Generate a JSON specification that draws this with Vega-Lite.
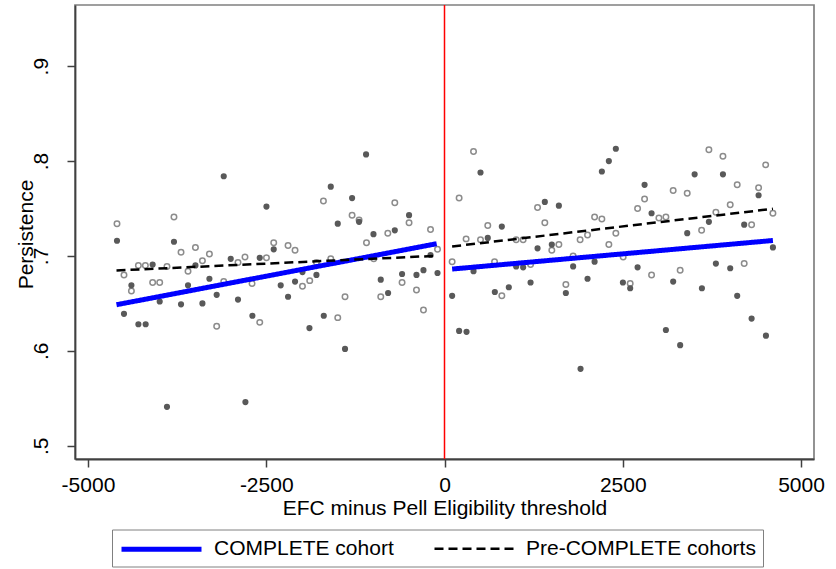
{
  "$schema": "https://vega.github.io/schema/vega-lite/v6.json",
  "width": 739,
  "height": 454,
  "autosize": {"type": "none"},
  "padding": {"left": 75, "top": 5, "right": 22, "bottom": 110},
  "background": "white",
  "config": {
    "view": {"stroke": "#808080", "strokeWidth": 1.7},
    "font": "Liberation Sans",
    "axis": {
      "labelFont": "Liberation Sans", "titleFont": "Liberation Sans",
      "labelFontSize": 21, "titleFontSize": 21, "titleFontWeight": "normal",
      "labelColor": "#000000", "titleColor": "#000000", "grid": false,
      "domainColor": "#404040", "domainWidth": 1.8,
      "tickColor": "#404040", "tickWidth": 1.5, "tickSize": 8,
      "labelFlush": false, "labelOverlap": false
    }
  },
  "datasets": {
    "pts": [
      {"x":-3096,"y":0.784,"c":"C"},{"x":-4593,"y":0.716,"c":"C"},{"x":-3794,"y":0.715,"c":"C"},{"x":-2998,"y":0.697,"c":"C"},{"x":-2591,"y":0.698,"c":"C"},{"x":-4093,"y":0.691,"c":"C"},{"x":-3493,"y":0.690,"c":"C"},{"x":-4391,"y":0.669,"c":"C"},{"x":-3597,"y":0.669,"c":"C"},{"x":-3297,"y":0.676,"c":"C"},{"x":-3994,"y":0.652,"c":"C"},{"x":-3695,"y":0.649,"c":"C"},{"x":-3395,"y":0.650,"c":"C"},{"x":-3195,"y":0.659,"c":"C"},{"x":-2896,"y":0.654,"c":"C"},{"x":-2297,"y":0.669,"c":"C"},{"x":-2096,"y":0.673,"c":"C"},{"x":-2194,"y":0.657,"c":"C"},{"x":-4495,"y":0.639,"c":"C"},{"x":-4293,"y":0.628,"c":"C"},{"x":-4191,"y":0.628,"c":"C"},{"x":-2694,"y":0.637,"c":"C"},{"x":-1894,"y":0.624,"c":"C"},{"x":-1693,"y":0.637,"c":"C"},{"x":-1395,"y":0.602,"c":"C"},{"x":-894,"y":0.675,"c":"C"},{"x":-791,"y":0.661,"c":"C"},{"x":-3892,"y":0.541,"c":"C"},{"x":-2792,"y":0.546,"c":"C"},{"x":-1100,"y":0.807,"c":"C"},{"x":-1595,"y":0.773,"c":"C"},{"x":-2497,"y":0.752,"c":"C"},{"x":-1296,"y":0.761,"c":"C"},{"x":-1198,"y":0.736,"c":"C"},{"x":-1497,"y":0.734,"c":"C"},{"x":-497,"y":0.743,"c":"C"},{"x":-697,"y":0.727,"c":"C"},{"x":-996,"y":0.723,"c":"C"},{"x":-2395,"y":0.707,"c":"C"},{"x":-196,"y":0.701,"c":"C"},{"x":-1992,"y":0.683,"c":"C"},{"x":-1796,"y":0.680,"c":"C"},{"x":-595,"y":0.681,"c":"C"},{"x":-393,"y":0.680,"c":"C"},{"x":-295,"y":0.685,"c":"C"},{"x":-98,"y":0.682,"c":"C"},
      {"x":505,"y":0.788,"c":"C"},{"x":2403,"y":0.813,"c":"C"},{"x":2305,"y":0.800,"c":"C"},{"x":2207,"y":0.789,"c":"C"},{"x":1407,"y":0.757,"c":"C"},{"x":1604,"y":0.753,"c":"C"},{"x":804,"y":0.731,"c":"C"},{"x":607,"y":0.719,"c":"C"},{"x":1305,"y":0.708,"c":"C"},{"x":1505,"y":0.712,"c":"C"},{"x":407,"y":0.684,"c":"C"},{"x":1804,"y":0.689,"c":"C"},{"x":2105,"y":0.694,"c":"C"},{"x":1005,"y":0.689,"c":"C"},{"x":1103,"y":0.688,"c":"C"},{"x":2006,"y":0.676,"c":"C"},{"x":902,"y":0.667,"c":"C"},{"x":1207,"y":0.672,"c":"C"},{"x":107,"y":0.658,"c":"C"},{"x":706,"y":0.662,"c":"C"},{"x":1702,"y":0.661,"c":"C"},{"x":2502,"y":0.672,"c":"C"},{"x":2604,"y":0.666,"c":"C"},{"x":3207,"y":0.673,"c":"C"},{"x":3610,"y":0.666,"c":"C"},{"x":4105,"y":0.658,"c":"C"},{"x":205,"y":0.621,"c":"C"},{"x":309,"y":0.620,"c":"C"},{"x":3105,"y":0.622,"c":"C"},{"x":3305,"y":0.606,"c":"C"},{"x":4307,"y":0.634,"c":"C"},{"x":4508,"y":0.616,"c":"C"},{"x":1908,"y":0.581,"c":"C"},{"x":3508,"y":0.786,"c":"C"},{"x":3905,"y":0.786,"c":"C"},{"x":2806,"y":0.775,"c":"C"},{"x":4405,"y":0.764,"c":"C"},{"x":2904,"y":0.745,"c":"C"},{"x":3708,"y":0.736,"c":"C"},{"x":3404,"y":0.724,"c":"C"},{"x":4203,"y":0.733,"c":"C"},{"x":4606,"y":0.709,"c":"C"},{"x":2708,"y":0.688,"c":"C"},{"x":3806,"y":0.692,"c":"C"},{"x":4007,"y":0.687,"c":"C"},
      {"x":-4593,"y":0.734,"c":"P"},{"x":-3794,"y":0.741,"c":"P"},{"x":-3695,"y":0.704,"c":"P"},{"x":-3493,"y":0.709,"c":"P"},{"x":-3297,"y":0.702,"c":"P"},{"x":-3395,"y":0.695,"c":"P"},{"x":-2798,"y":0.699,"c":"P"},{"x":-4293,"y":0.690,"c":"P"},{"x":-4195,"y":0.690,"c":"P"},{"x":-3892,"y":0.689,"c":"P"},{"x":-3597,"y":0.684,"c":"P"},{"x":-2896,"y":0.693,"c":"P"},{"x":-4495,"y":0.680,"c":"P"},{"x":-4093,"y":0.672,"c":"P"},{"x":-3994,"y":0.672,"c":"P"},{"x":-3096,"y":0.673,"c":"P"},{"x":-2699,"y":0.671,"c":"P"},{"x":-4391,"y":0.663,"c":"P"},{"x":-1992,"y":0.668,"c":"P"},{"x":-1890,"y":0.674,"c":"P"},{"x":-3195,"y":0.626,"c":"P"},{"x":-2591,"y":0.630,"c":"P"},{"x":-1497,"y":0.635,"c":"P"},{"x":-1395,"y":0.657,"c":"P"},{"x":-894,"y":0.657,"c":"P"},{"x":-595,"y":0.672,"c":"P"},{"x":-393,"y":0.664,"c":"P"},{"x":-295,"y":0.643,"c":"P"},{"x":-1698,"y":0.758,"c":"P"},{"x":-697,"y":0.756,"c":"P"},{"x":-1296,"y":0.743,"c":"P"},{"x":-1198,"y":0.738,"c":"P"},{"x":-497,"y":0.735,"c":"P"},{"x":-196,"y":0.728,"c":"P"},{"x":-795,"y":0.724,"c":"P"},{"x":-1094,"y":0.714,"c":"P"},{"x":-2395,"y":0.714,"c":"P"},{"x":-2194,"y":0.711,"c":"P"},{"x":-2096,"y":0.706,"c":"P"},{"x":-2497,"y":0.698,"c":"P"},{"x":-1595,"y":0.697,"c":"P"},{"x":-992,"y":0.697,"c":"P"},{"x":-98,"y":0.707,"c":"P"},{"x":-1796,"y":0.693,"c":"P"},
      {"x":407,"y":0.810,"c":"P"},{"x":205,"y":0.761,"c":"P"},{"x":1305,"y":0.751,"c":"P"},{"x":1407,"y":0.735,"c":"P"},{"x":2105,"y":0.741,"c":"P"},{"x":2207,"y":0.739,"c":"P"},{"x":607,"y":0.732,"c":"P"},{"x":303,"y":0.718,"c":"P"},{"x":505,"y":0.717,"c":"P"},{"x":1005,"y":0.717,"c":"P"},{"x":1103,"y":0.717,"c":"P"},{"x":1902,"y":0.717,"c":"P"},{"x":2006,"y":0.722,"c":"P"},{"x":2403,"y":0.724,"c":"P"},{"x":2305,"y":0.712,"c":"P"},{"x":1604,"y":0.712,"c":"P"},{"x":1505,"y":0.706,"c":"P"},{"x":107,"y":0.694,"c":"P"},{"x":702,"y":0.694,"c":"P"},{"x":1804,"y":0.700,"c":"P"},{"x":1207,"y":0.691,"c":"P"},{"x":1702,"y":0.670,"c":"P"},{"x":804,"y":0.658,"c":"P"},{"x":2604,"y":0.671,"c":"P"},{"x":3708,"y":0.812,"c":"P"},{"x":3905,"y":0.805,"c":"P"},{"x":4504,"y":0.796,"c":"P"},{"x":3207,"y":0.769,"c":"P"},{"x":3404,"y":0.766,"c":"P"},{"x":4105,"y":0.775,"c":"P"},{"x":4405,"y":0.772,"c":"P"},{"x":2806,"y":0.760,"c":"P"},{"x":2708,"y":0.750,"c":"P"},{"x":4007,"y":0.754,"c":"P"},{"x":3007,"y":0.740,"c":"P"},{"x":3105,"y":0.741,"c":"P"},{"x":3806,"y":0.746,"c":"P"},{"x":4606,"y":0.745,"c":"P"},{"x":3606,"y":0.727,"c":"P"},{"x":4307,"y":0.733,"c":"P"},{"x":2506,"y":0.699,"c":"P"},{"x":2904,"y":0.680,"c":"P"},{"x":3305,"y":0.685,"c":"P"},{"x":4203,"y":0.692,"c":"P"}
    ],
    "fit": [
      {"x":-4600,"y":0.6486,"s":"COMPLETE cohort","g":"CL"},
      {"x":-110,"y":0.7129,"s":"COMPLETE cohort","g":"CL"},
      {"x":107,"y":0.6862,"s":"COMPLETE cohort","g":"CR"},
      {"x":4606,"y":0.7163,"s":"COMPLETE cohort","g":"CR"},
      {"x":-4600,"y":0.6847,"s":"Pre-COMPLETE cohorts","g":"PL"},
      {"x":-98,"y":0.7002,"s":"Pre-COMPLETE cohorts","g":"PL"},
      {"x":107,"y":0.7100,"s":"Pre-COMPLETE cohorts","g":"PR"},
      {"x":4606,"y":0.7497,"s":"Pre-COMPLETE cohorts","g":"PR"}
    ]
  },
  "layer": [
    {
      "data": {"name": "pts"},
      "transform": [{"filter": "datum.c == 'P'"}],
      "mark": {"type": "point", "shape": "circle", "filled": false, "size": 30, "stroke": "#8c8c8c", "strokeWidth": 1.5, "opacity": 1},
      "encoding": {
        "x": {"field": "x", "type": "quantitative", "scale": {"domain": [-5182, 5182], "nice": false, "zero": false},
          "axis": {"values": [-5000, -2500, 0, 2500, 5000], "labelExpr": "toString(datum.value)", "title": "EFC minus Pell Eligibility threshold", "labelPadding": 7, "titlePadding": 2}},
        "y": {"field": "y", "type": "quantitative", "scale": {"domain": [0.486, 0.9645], "nice": false, "zero": false},
          "axis": {"values": [0.5, 0.6, 0.7, 0.8, 0.9], "labelExpr": "substring(format(datum.value, '.1f'), 1)", "labelAngle": -90, "labelAlign": "center", "labelBaseline": "alphabetic", "labelPadding": 20, "title": "Persistence", "titleX": -49, "titleY": 229, "titleAngle": -90, "titleBaseline": "middle", "titleAlign": "center"}}
      }
    },
    {
      "data": {"name": "pts"},
      "transform": [{"filter": "datum.c == 'C'"}],
      "mark": {"type": "point", "shape": "circle", "filled": true, "size": 38, "color": "#595959", "opacity": 1},
      "encoding": {
        "x": {"field": "x", "type": "quantitative"},
        "y": {"field": "y", "type": "quantitative"}
      }
    },
    {
      "data": {"name": "fit"},
      "mark": {"type": "line"},
      "encoding": {
        "x": {"field": "x", "type": "quantitative"},
        "y": {"field": "y", "type": "quantitative"},
        "detail": {"field": "g"},
        "color": {"field": "s", "type": "ordinal", "scale": {"domain": ["COMPLETE cohort", "Pre-COMPLETE cohorts"], "range": ["#0000ff", "#000000"]},
          "legend": {"orient": "none", "legendX": 37, "legendY": 524.5, "direction": "horizontal", "title": null, "symbolType": "M-1,0H7", "symbolSize": 400, "labelFontSize": 21, "labelFont": "Liberation Sans", "labelColor": "#000000", "labelOffset": 70, "columnPadding": 35, "padding": 7, "strokeColor": "#808080", "fillColor": "white", "labelLimit": 400}},
        "strokeDash": {"field": "s", "type": "ordinal", "scale": {"domain": ["COMPLETE cohort", "Pre-COMPLETE cohorts"], "range": [[1, 0], [9, 5]]}},
        "strokeWidth": {"field": "s", "type": "ordinal", "scale": {"domain": ["COMPLETE cohort", "Pre-COMPLETE cohorts"], "range": [5, 2.5]}}
      }
    },
    {
      "data": {"values": [{}]},
      "mark": {"type": "rule", "color": "#ff0000", "strokeWidth": 1.5},
      "encoding": {"x": {"datum": 0}}
    }
  ]
}
